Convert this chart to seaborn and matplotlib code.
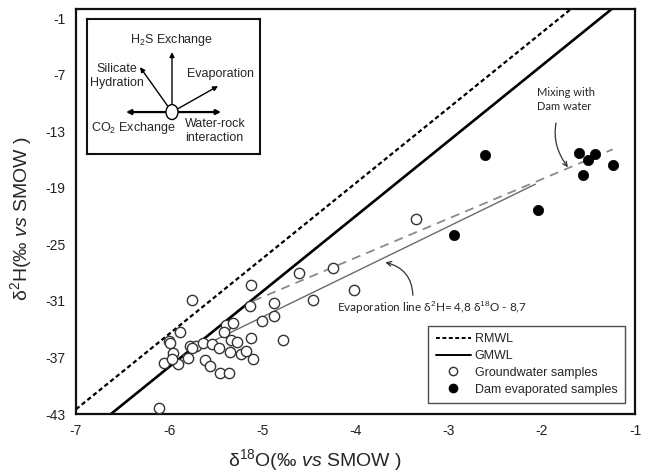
import numpy as np
import pandas as pd
import matplotlib
matplotlib.use('Agg')
import matplotlib.pyplot as plt
import seaborn as sns
from matplotlib.lines import Line2D
from matplotlib.patches import Ellipse

# groundwater samples (open circles)
gw_d18o = [-5.76, -5.12, -4.61, -4.46, -4.87, -5.13, -4.88, -5.00, -5.39, -5.32,
           -5.88, -6.00, -5.99, -5.41, -5.12, -4.78, -5.34, -5.27, -5.78, -5.71,
           -5.76, -5.64, -5.54, -5.47, -5.955, -6.06, -5.91, -5.97, -5.80, -5.62,
           -5.56, -5.35, -5.23, -5.17, -5.10, -5.45, -5.36, -6.105, -4.24, -4.02,
           -3.35]
gw_d2h = [-30.9, -29.3, -28.05, -30.9, -31.2, -31.5, -32.6, -33.1, -33.5, -33.35,
          -34.3, -35.3, -35.5, -34.3, -34.9, -35.1, -35.1, -35.4, -35.8, -35.8,
          -36.0, -35.5, -35.6, -36.0, -36.5, -37.6, -37.7, -37.2, -37.1, -37.3,
          -37.9, -36.4, -36.6, -36.3, -37.2, -38.6, -38.6, -42.4, -27.55, -29.85,
          -22.3]

# dam evaporated samples (filled circles)
dam_d18o = [-2.61, -1.605, -1.50, -1.43, -1.235, -1.56, -2.045, -2.94]
dam_d2h = [-15.5, -15.3, -16.0, -15.4, -16.6, -17.6, -21.3, -24.0]

# reference lines (end points)
rmwl_x = [-7.0, -1.5]
rmwl_y = [-42.5, 1.5]
gmwl_x = [-6.7, -1.2]
gmwl_y = [-43.6, 0.4]
evap_x = [-5.85, -2.07]
evap_y = [-36.8, -18.6]
mix_x = [-5.1, -1.24]
mix_y = [-31.0, -14.9]

x_ticks = [-7, -6, -5, -4, -3, -2, -1]
y_ticks = [-43, -37, -31, -25, -19, -13, -7, -1]

sns.set_style('white')
plt.rcParams['font.family'] = ['Liberation Sans', 'DejaVu Sans']
plt.rcParams['mathtext.fontset'] = 'custom'
plt.rcParams['mathtext.rm'] = 'Liberation Sans'
plt.rcParams['mathtext.it'] = 'Liberation Sans:italic'
plt.rcParams['axes.unicode_minus'] = False

fig = plt.figure(figsize=(6.45, 4.75), dpi=100)
ax = fig.add_axes([0.1178, 0.1284, 0.8667, 0.8526])

sns.lineplot(x=rmwl_x, y=rmwl_y, ax=ax, color='black', lw=1.6,
             linestyle=(0, (2, 1.3)))
sns.lineplot(x=gmwl_x, y=gmwl_y, ax=ax, color='black', lw=1.9)
sns.lineplot(x=mix_x, y=mix_y, ax=ax, color='#8a8a8a', lw=1.3, linestyle=(0, (5, 3.5)))
sns.lineplot(x=evap_x, y=evap_y, ax=ax, color='#6a6a6a', lw=1.0)

sns.scatterplot(x=gw_d18o, y=gw_d2h, ax=ax, s=55, facecolor='white',
                edgecolor='#333333', linewidth=1.0, zorder=3)
sns.scatterplot(x=dam_d18o, y=dam_d2h, ax=ax, s=55, color='black',
                edgecolor='black', linewidth=0.5, zorder=3)

ax.set_xlim(-7, -1)
ax.set_ylim(-43, 0)
ax.set_xticks(x_ticks)
ax.set_yticks(y_ticks)
ax.tick_params(direction='out', length=4, width=1, labelsize=10, colors='#222222')
for sp in ax.spines.values():
    sp.set_linewidth(1.6)
    sp.set_color('#111111')

ax.set_xlabel('δ$^{18}$O(‰ $\\it{vs}$ SMOW )', fontsize=14)
ax.set_ylabel('δ$^{2}$H(‰ $\\it{vs}$ SMOW )', fontsize=14)
ax.xaxis.set_label_coords(0.4275, -0.082)
ax.yaxis.set_label_coords(-0.0755, 0.484)

# annotations
ax.annotate('Mixing with\nDam water', xy=(-1.72, -16.8), xytext=(-2.05, -9.6),
            fontsize=8, family='Lato', va='center', ha='left', linespacing=1.3,
            arrowprops=dict(arrowstyle='->', color='#333333', lw=0.9,
                            connectionstyle='arc3,rad=0.35', shrinkA=6, shrinkB=0))
ax.annotate('Evaporation line δ$^2$H= 4,8 δ$^{18}$O - 8,7',
            xy=(-3.68, -26.9), xytext=(-4.2, -31.65),
            fontsize=8.5, family='Lato', va='center', ha='left',
            arrowprops=dict(arrowstyle='->', color='#333333', lw=0.9,
                            connectionstyle='arc3,rad=0.4', shrinkA=0, shrinkB=0,
                            relpos=(0.4, 1.0)))

handles = [
    Line2D([], [], color='black', lw=1.4, linestyle=(0, (2, 1.3))),
    Line2D([], [], color='black', lw=1.4),
    Line2D([], [], marker='o', color='none', markerfacecolor='white',
           markeredgecolor='#333333', markersize=6),
    Line2D([], [], marker='o', color='none', markerfacecolor='black',
           markeredgecolor='black', markersize=6),
]
labels = ['RMWL', 'GMWL', 'Groundwater samples', 'Dam evaporated samples']
leg = ax.legend(handles, labels, loc='lower right', bbox_to_anchor=(0.982, 0.027),
                borderaxespad=0, fontsize=9, frameon=True, fancybox=False,
                edgecolor='#222222', handlelength=2.8, handletextpad=0.3,
                labelspacing=0.38, borderpad=0.6)
leg.get_frame().set_linewidth(1.0)

# inset diagram, drawn in pixel-like coordinates
ins = ax.inset_axes([0.0197, 0.642, 0.3095, 0.333])
ins.set_xlim(87, 260)
ins.set_ylim(154, 19)
ins.set_xticks([])
ins.set_yticks([])
for sp in ins.spines.values():
    sp.set_linewidth(1.5)
    sp.set_color('#111111')

cx, cy = 172, 112
arrow_ends = [(172, 52, 1.0), (140, 67, 1.0), (218, 86, 1.0), (126, 112, 1.6), (221, 112, 1.6)]
for ex, ey, lw in arrow_ends:
    ins.annotate('', xy=(ex, ey), xytext=(cx, cy),
                 arrowprops=dict(arrowstyle='-|>', color='black', lw=lw,
                                 mutation_scale=7, shrinkA=0, shrinkB=0))
ins.add_patch(Ellipse((cx, cy), 12, 15, facecolor='white', edgecolor='black',
                      lw=1.0, zorder=5))
ins.text(172, 40, r'H$_2$S Exchange', fontsize=9, ha='center', va='center')
ins.text(117, 76, 'Silicate\nHydration', fontsize=9, ha='center', va='center',
         linespacing=1.15)
ins.text(187, 74, 'Evaporation', fontsize=9, ha='left', va='center')
ins.text(91, 128, r'CO$_2$ Exchange', fontsize=9, ha='left', va='center')
ins.text(185, 131, 'Water-rock\ninteraction', fontsize=9, ha='left', va='center',
         linespacing=1.15)

fig.savefig('out.png', dpi=100)
